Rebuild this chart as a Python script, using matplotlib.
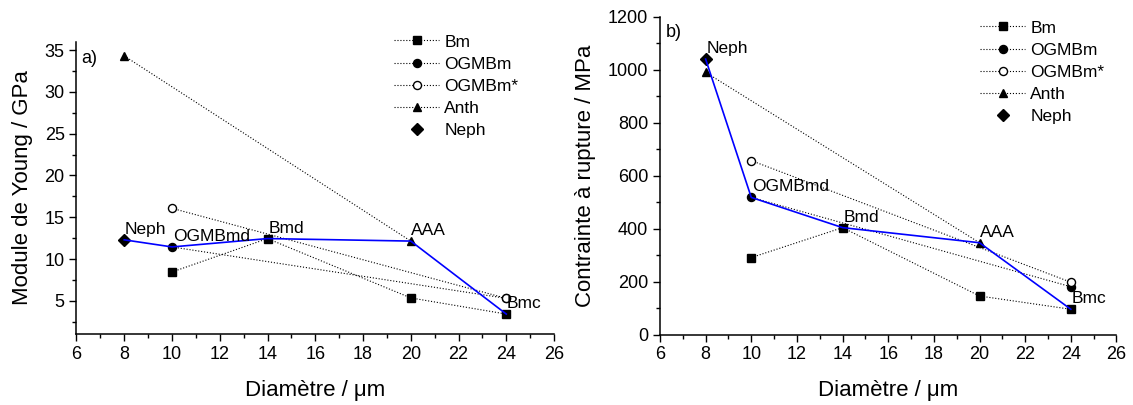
import matplotlib
matplotlib.use("Agg")
import matplotlib.pyplot as plt
from matplotlib.ticker import MultipleLocator

plt.rcParams['font.family'] = ['Liberation Sans', 'DejaVu Sans']

# diameters (µm)
x_bm = [10, 14, 20, 24]
x_ogm = [10, 24]
x_ogms = [10, 24]
x_anth = [8, 20]
x_neph = [8]

# a) Young's modulus (GPa)
E_bm = [8.45, 12.45, 5.35, 3.42]
E_ogm = [11.45, 5.3]
E_ogms = [16.07, 5.3]
E_anth = [34.3, 12.15]
E_neph = [12.3]

# b) tensile strength (MPa)
s_bm = [291, 404, 146, 96]
s_ogm = [518, 181]
s_ogms = [657, 198]
s_anth = [990, 347]
s_neph = [1040]

sel_names = ['Neph', 'OGMBmd', 'Bmd', 'AAA', 'Bmc']


def draw(ax, ybm, yogm, yogms, yanth, yneph):
    kw = dict(color='black', ls=':', lw=0.8, ms=5.8)
    ax.plot(x_bm, ybm, marker='s', label='Bm', **kw)
    ax.plot(x_ogm, yogm, marker='o', label='OGMBm', **kw)
    ax.plot(x_ogms, yogms, marker='o', mfc='white', mec='black', label='OGMBm*', **kw)
    ax.plot(x_anth, yanth, marker='^', label='Anth', **kw)
    ax.plot(x_neph, yneph, marker='D', ls='none', color='black', ms=5.8, label='Neph')

    # selected fibres joined by the blue line
    sx = [x_neph[0], x_ogm[0], x_bm[1], x_anth[1], x_bm[3]]
    sy = [yneph[0], yogm[0], ybm[1], yanth[1], ybm[3]]
    ax.plot(sx, sy, color='#0000ff', lw=1.2, zorder=3)
    for name, xx, yy in zip(sel_names, sx, sy):
        ax.annotate(name, (xx, yy), xytext=(0.5, 4.3), textcoords='offset points',
                    ha='left', va='baseline', fontsize=12.5)

    for s in ['top', 'right']:
        ax.spines[s].set_visible(False)
    for s in ['left', 'bottom']:
        ax.spines[s].set_linewidth(1.1)
    ax.set_xlim(6, 26)
    ax.xaxis.set_major_locator(MultipleLocator(2))
    ax.xaxis.set_minor_locator(MultipleLocator(1))
    ax.tick_params(which='major', direction='out', length=5, width=1.0, labelsize=13, pad=3.5)
    ax.tick_params(which='minor', direction='out', length=3, width=1.0)
    ax.set_xlabel('Diamètre / μm', fontsize=16, labelpad=12)


fig = plt.figure(figsize=(11.33, 4.05), dpi=100)
ax1 = fig.add_axes([0.0675, 0.1746, 0.4215, 0.7224])
ax2 = fig.add_axes([0.5825, 0.1736, 0.4029, 0.7852])

draw(ax1, E_bm, E_ogm, E_ogms, E_anth, E_neph)
ax1.set_ylim(1, 36)
ax1.yaxis.set_major_locator(MultipleLocator(5))
ax1.yaxis.set_minor_locator(MultipleLocator(2.5))
ax1.set_ylabel('Module de Young / GPa', fontsize=16, labelpad=8.5)
ax1.text(0.011, 0.926, 'a)', transform=ax1.transAxes, fontsize=13, va='baseline')

draw(ax2, s_bm, s_ogm, s_ogms, s_anth, s_neph)
ax2.set_ylim(0, 1200)
ax2.yaxis.set_major_locator(MultipleLocator(200))
ax2.yaxis.set_minor_locator(MultipleLocator(100))
ax2.set_ylabel('Contrainte à rupture / MPa', fontsize=16, labelpad=8.5)
ax2.text(0.013, 0.937, 'b)', transform=ax2.transAxes, fontsize=13, va='baseline')

leg_kw = dict(loc='upper left', frameon=False, fontsize=12.5, numpoints=1,
              handlelength=2.6, handletextpad=0.29, labelspacing=0.4,
              borderpad=0, borderaxespad=0)
ax1.legend(bbox_to_anchor=(394 / 1133, 1 - 34.4 / 405), bbox_transform=fig.transFigure, **leg_kw)
ax2.legend(bbox_to_anchor=(980 / 1133, 1 - 20.4 / 405), bbox_transform=fig.transFigure, **leg_kw)

fig.savefig('out.png', dpi=100)
